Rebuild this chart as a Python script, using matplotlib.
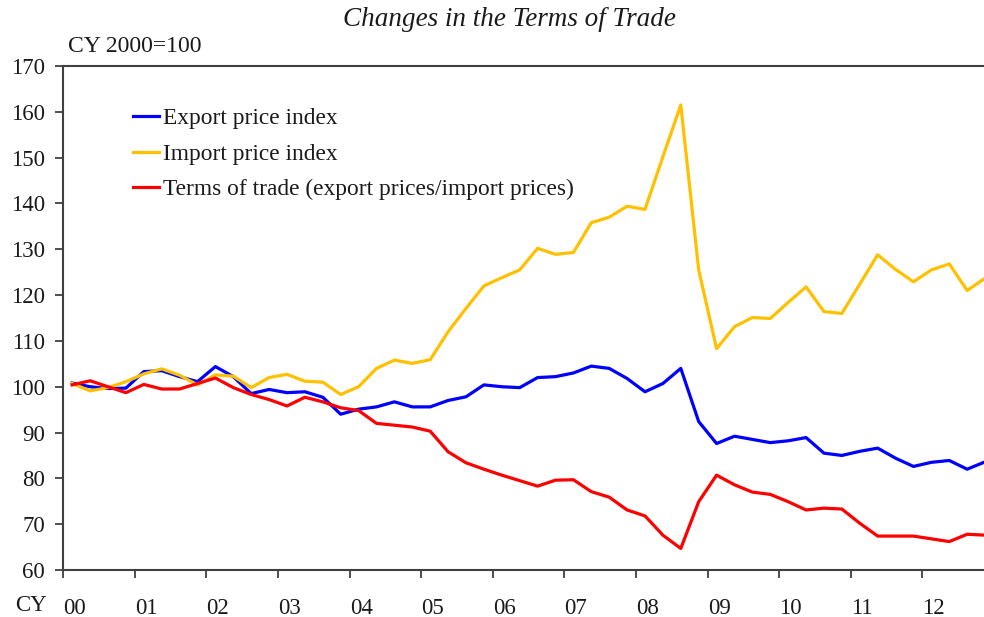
import matplotlib
matplotlib.use("Agg")
import matplotlib.pyplot as plt
import numpy as np

# Quarterly data, 2000Q1 .. 2012Q4
years = list(range(2000, 2013))
year_labels = ["00", "01", "02", "03", "04", "05", "06", "07", "08", "09", "10", "11", "12"]

export_idx = [100.8, 100.0, 99.6, 99.7, 103.3, 103.5, 102.2, 101.1, 104.4, 102.2,
              98.5, 99.4, 98.7, 98.9, 97.7, 94.0, 95.1, 95.6, 96.7, 95.6,
              95.6, 97.0, 97.8, 100.4, 100.0, 99.8, 102.0, 102.2, 103.0, 104.5,
              104.0, 101.8, 98.9, 100.7, 104.0, 92.4, 87.6, 89.2, 88.5, 87.8,
              88.2, 88.9, 85.5, 85.0, 85.9, 86.6, 84.4, 82.6, 83.5, 83.9,
              82.0, 83.6]
import_idx = [100.7, 99.1, 99.8, 101.1, 102.8, 103.9, 102.5, 100.4, 102.6, 102.3,
              99.8, 102.0, 102.7, 101.2, 101.0, 98.3, 100.0, 104.0, 105.8, 105.1,
              105.9, 112.0, 117.1, 122.0, 123.8, 125.5, 130.2, 128.9, 129.3, 135.8,
              137.0, 139.4, 138.7, 150.2, 161.5, 125.5, 108.3, 113.1, 115.1, 114.9,
              118.4, 121.8, 116.4, 116.0, 122.4, 128.8, 125.6, 122.9, 125.5, 126.8,
              121.0, 123.7]
tot_idx = [100.4, 101.3, 100.0, 98.7, 100.5, 99.5, 99.5, 100.7, 101.9, 99.8,
           98.3, 97.2, 95.8, 97.7, 96.7, 95.4, 94.8, 92.0, 91.6, 91.2,
           90.3, 85.8, 83.4, 82.0, 80.7, 79.5, 78.3, 79.6, 79.7, 77.1,
           75.9, 73.1, 71.8, 67.6, 64.7, 74.9, 80.7, 78.6, 77.0, 76.5,
           74.9, 73.1, 73.5, 73.3, 70.2, 67.4, 67.4, 67.4, 66.8, 66.2,
           67.8, 67.6]

n = len(export_idx)
x = 2000 + (np.arange(n) + 0.5) / 4.0

plt.rcParams['font.family'] = ['Liberation Serif', 'DejaVu Serif']

fig = plt.figure(figsize=(9.84, 6.17), dpi=100)
ax = fig.add_axes([0.0643, 0.0762, 0.9357, 0.8168])

ax.plot(x, export_idx, color='#0000FF', lw=2.3, label='Export price index')
ax.plot(x, import_idx, color='#FFC000', lw=2.3, label='Import price index')
ax.plot(x, tot_idx, color='#FF0000', lw=2.3, label='Terms of trade (export prices/import prices)')

ax.set_xlim(2000, 2012.86)
ax.set_ylim(60, 170)
ax.set_yticks(range(60, 171, 10))
ax.set_xticks(years)
ax.set_xticklabels(year_labels, ha='left')

spine_col = '#404040'
for s in ['left', 'bottom', 'top']:
    ax.spines[s].set_color(spine_col)
    ax.spines[s].set_linewidth(1.5)
ax.spines['right'].set_visible(False)

ax.tick_params(axis='y', direction='out', length=6, width=1.3, color=spine_col,
               labelsize=16.5, pad=7, labelcolor='#1a1a1a')
ax.tick_params(axis='x', direction='out', length=6, width=1.3, color=spine_col,
               labelsize=16.5, pad=14, labelcolor='#1a1a1a')

leg = ax.legend(loc='upper left', bbox_to_anchor=(0.066, 0.935), frameon=False,
                fontsize=16.8, handlelength=1.1, handletextpad=0.17, labelspacing=0.6,
                borderaxespad=0)
for t in leg.get_texts():
    t.set_color('#1a1a1a')

fig.text(0.518, 0.968, 'Changes in the Terms of Trade', ha='center', va='center',
         fontsize=19.5, style='italic', color='#1a1a1a')
fig.text(0.069, 0.924, 'CY 2000=100', ha='left', va='center', fontsize=17, color='#1a1a1a')
fig.text(0.015, 0.018, 'CY', ha='left', va='center', fontsize=16.5, color='#1a1a1a')

fig.savefig('out.png', dpi=100)
